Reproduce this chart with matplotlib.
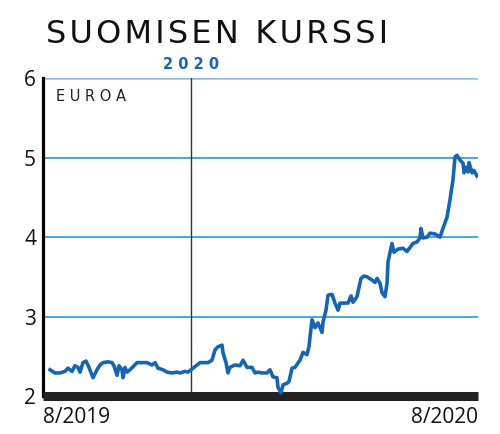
import matplotlib
matplotlib.use('Agg')
import matplotlib.pyplot as plt

# päiviä 1.8.2019 alkaen, kurssi euroina (luettu kuvasta)
days = [6.4, 10.9, 15.5, 20.0, 22.8, 26.4, 29.1, 31.9, 33.7, 36.4, 39.1, 41.9,
        45.5, 49.2, 51.9, 54.6, 59.2, 62.8, 64.6, 67.4, 69.2, 71.9, 72.8, 74.6,
        76.5, 79.2, 85.6, 88.3, 94.7, 99.2, 102.0, 104.7, 109.2, 112.9, 117.4,
        122.0, 124.7, 129.3, 132.0, 135.6, 136.6, 140.2, 143.0, 145.7, 150.2,
        153.8, 156.6, 159.3, 163.0, 163.9, 166.6, 168.4, 170.2, 174.8, 179.3,
        182.1, 185.7, 190.3, 193.0, 195.7, 199.4, 203.9, 206.6, 209.4, 213.0,
        213.9, 216.7, 218.5, 222.1, 223.9, 226.7, 229.4, 233.9, 236.7, 240.3,
        242.1, 244.9, 247.6, 250.3, 254.0, 254.9, 257.6, 259.5, 263.1, 265.8,
        268.6, 270.4, 274.9, 277.7, 280.4, 282.2, 285.8, 289.5, 292.2, 295.0,
        299.5, 302.2, 304.1, 306.8, 308.6, 311.3, 313.2, 314.1, 317.7, 319.5,
        323.2, 327.7, 331.4, 334.1, 336.8, 340.5, 343.2, 344.1, 345.9, 349.6,
        352.3, 356.9, 361.4, 364.1, 367.8, 370.5, 373.2, 375.1, 376.9, 379.6,
        382.4, 383.3, 385.1, 386.9, 387.8, 390.6, 392.3, 395.1]
price = [2.33, 2.29, 2.29, 2.31, 2.35, 2.31, 2.38, 2.36, 2.30, 2.42, 2.44, 2.36,
         2.23, 2.33, 2.39, 2.42, 2.43, 2.42, 2.38, 2.26, 2.38, 2.33, 2.23, 2.36,
         2.30, 2.33, 2.42, 2.42, 2.42, 2.39, 2.42, 2.35, 2.33, 2.30, 2.29,
         2.30, 2.29, 2.31, 2.30, 2.34, 2.35, 2.39, 2.42, 2.42, 2.42,
         2.45, 2.58, 2.62, 2.64, 2.54, 2.42, 2.29, 2.36, 2.39, 2.38,
         2.45, 2.36, 2.36, 2.29, 2.30, 2.29, 2.29, 2.33, 2.24, 2.23,
         2.11, 2.04, 2.14, 2.16, 2.18, 2.35, 2.36, 2.45, 2.55, 2.52,
         2.62, 2.96, 2.86, 2.92, 2.80, 2.93, 3.08, 3.27, 3.28, 3.17,
         3.08, 3.17, 3.17, 3.17, 3.26, 3.18, 3.25, 3.48, 3.51, 3.50,
         3.46, 3.43, 3.48, 3.42, 3.30, 3.25, 3.42, 3.69, 3.92, 3.81,
         3.85, 3.86, 3.82, 3.87, 3.92, 3.94, 3.99, 4.11, 3.99, 4.00,
         4.05, 4.04, 4.00, 4.11, 4.25, 4.47, 4.72, 5.01, 5.03, 4.97,
         4.93, 4.81, 4.88, 4.82, 4.94, 4.81, 4.84, 4.77]

y_ticks = [2, 3, 4, 5, 6]
x_ticks = [0, 396]
x_labels = ['8/2019', '8/2020']
divider_day = 135
divider_label = '2020'
title = 'SUOMISEN KURSSI'
unit = 'EUROA'

BLUE = '#1565b0'
GRID = '#3a9ee0'


def spaced(s, gap='\u200a'):
    return gap.join(s)


fig = plt.figure(figsize=(5, 4.34), dpi=100)
ax = fig.add_axes([0.086, 0.0876, 0.870, 0.732])

for v in y_ticks[1:-1]:
    ax.axhline(v, color=GRID, lw=1.3, zorder=1)
ax.axhline(y_ticks[-1], color='#8cc0ea', lw=1.8, zorder=1)
ax.axvline(divider_day, color='#333333', lw=1.0, zorder=1)

ax.plot(days, price, color=BLUE, lw=2.6, solid_joinstyle='round', zorder=5)

ax.set_xlim(x_ticks[0], x_ticks[1])
ax.set_ylim(y_ticks[0], y_ticks[-1])

for s in ['top', 'right']:
    ax.spines[s].set_visible(False)
ax.spines['left'].set_linewidth(2.3)
ax.spines['left'].set_color('black')
ax.spines['bottom'].set_linewidth(6.5)
ax.spines['bottom'].set_color('#222222')
ax.spines['bottom'].set_capstyle('butt')

ax.set_yticks(y_ticks)
ax.set_yticklabels([str(v) for v in y_ticks], fontfamily='Open Sans',
                   fontsize=15, color='#111111')
ax.tick_params(axis='y', length=0, pad=5)

ax.set_xticks(x_ticks)
ax.set_xticklabels(x_labels, fontfamily='Open Sans', fontsize=15,
                   color='#111111')
ax.tick_params(axis='x', length=0, pad=8)
labels = ax.get_xticklabels()
labels[0].set_ha('left')
labels[1].set_ha('right')

ax.text(0.03, 0.965, spaced(unit, ' '), transform=ax.transAxes, fontsize=10.5,
        fontfamily='DejaVu Sans', color='#222222', va='top', ha='left')
ax.text(divider_day, 6.08, spaced(divider_label, ' '), fontsize=10.5,
        fontweight='bold', fontfamily='DejaVu Sans', color=BLUE,
        ha='center', va='bottom')

fig.text(0.092, 0.921, spaced(title), fontsize=23, fontfamily='DejaVu Sans',
         color='#111111', ha='left', va='center')

fig.savefig('out.png', dpi=100, facecolor='white')
